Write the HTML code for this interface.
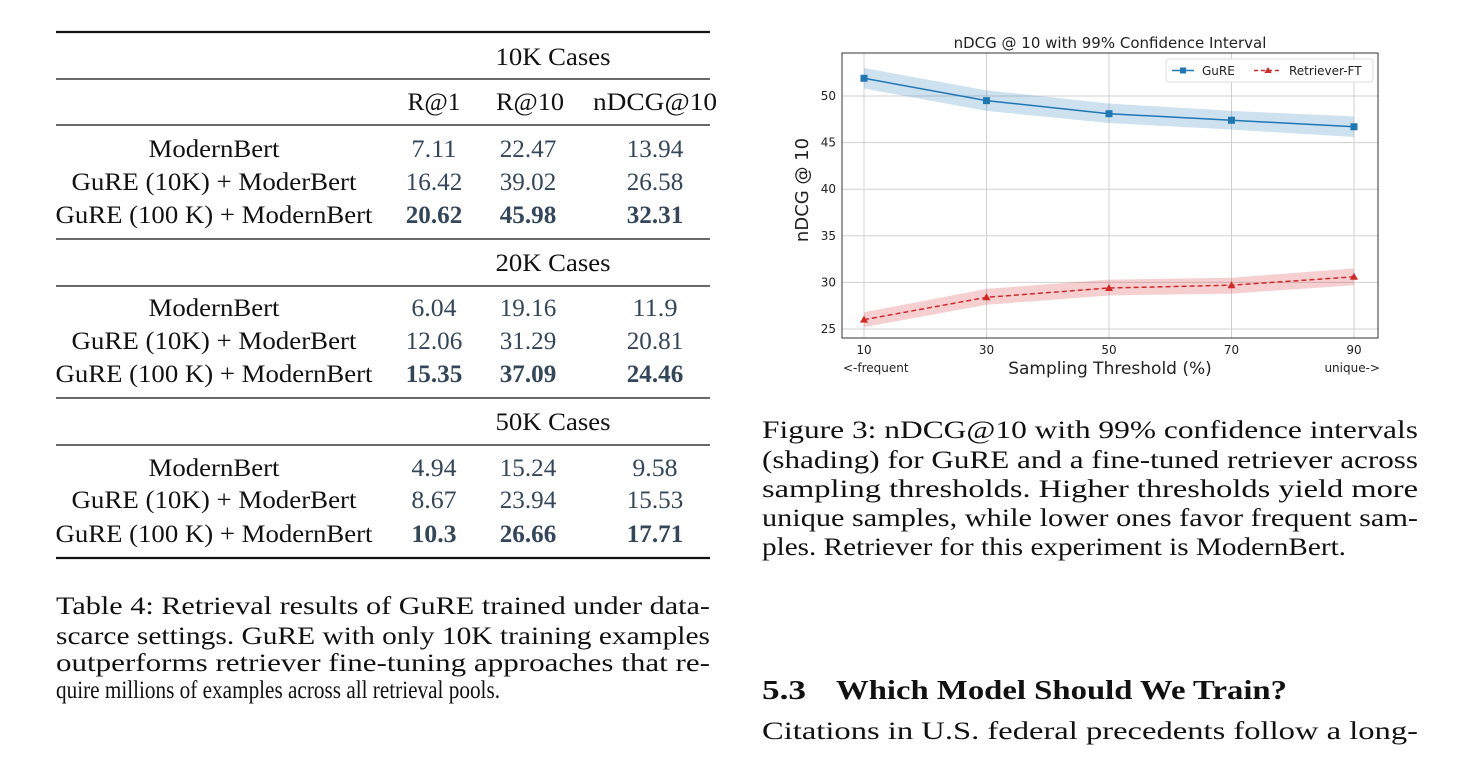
<!DOCTYPE html>
<html><head><meta charset="utf-8"><style>
html,body{margin:0;padding:0;background:#fff;}
svg{display:block;}
.s{font-family:"Liberation Serif",serif;fill:#111;}
.n{font-family:"Liberation Serif",serif;fill:#34465a;font-size:25px;}
.d{font-family:"DejaVu Sans","Liberation Sans",sans-serif;fill:#222;}
</style></head><body>
<svg id="page" width="1473" height="759" viewBox="0 0 1473 759">
<g id="table"></g>
<g class="s" font-size="25">
<text x="56" y="614" textLength="654" lengthAdjust="spacingAndGlyphs">Table 4: Retrieval results of GuRE trained under data-</text>
<text x="56" y="644" textLength="654" lengthAdjust="spacingAndGlyphs">scarce settings. GuRE with only 10K training examples</text>
<text x="56" y="671" textLength="654" lengthAdjust="spacingAndGlyphs">outperforms retriever fine-tuning approaches that re-</text>
<text x="56" y="698" textLength="444" lengthAdjust="spacingAndGlyphs">quire millions of examples across all retrieval pools.</text>
</g>
<g class="s" font-size="25">
<text x="762" y="438" textLength="656" lengthAdjust="spacingAndGlyphs">Figure 3: nDCG@10 with 99% confidence intervals</text>
<text x="762" y="468" textLength="656" lengthAdjust="spacingAndGlyphs">(shading) for GuRE and a fine-tuned retriever across</text>
<text x="762" y="497" textLength="656" lengthAdjust="spacingAndGlyphs">sampling thresholds.  Higher thresholds yield more</text>
<text x="762" y="526" textLength="656" lengthAdjust="spacingAndGlyphs">unique samples, while lower ones favor frequent sam-</text>
<text x="762" y="555" textLength="584" lengthAdjust="spacingAndGlyphs">ples. Retriever for this experiment is ModernBert.</text>
</g>
<g class="s" font-size="27" font-weight="bold">
<text x="762" y="699" textLength="44" lengthAdjust="spacingAndGlyphs">5.3</text>
<text x="836" y="699" textLength="451" lengthAdjust="spacingAndGlyphs">Which Model Should We Train?</text>
</g>
<text class="s" font-size="25" x="762" y="739" textLength="656" lengthAdjust="spacingAndGlyphs">Citations in U.S. federal precedents follow a long-</text>
<g id="chart"></g>
</svg>
<script>
const NS="http://www.w3.org/2000/svg";
function mk(p,tag,attrs,txt){const e=document.createElementNS(NS,tag);for(const k in attrs)e.setAttribute(k,attrs[k]);if(txt!==undefined)e.textContent=txt;p.appendChild(e);return e;}

// ---- table ----
const sections=["10K Cases","20K Cases","50K Cases"];
const rowLabels=["ModernBert","GuRE (10K) + ModerBert","GuRE (100 K) + ModernBert"];
const labelW=[131,285,317];
const r1=[["7.11","16.42","20.62"],["6.04","12.06","15.35"],["4.94","8.67","10.3"]];
const r10=[["22.47","39.02","45.98"],["19.16","31.29","37.09"],["15.24","23.94","26.66"]];
const nd=[["13.94","26.58","32.31"],["11.9","20.81","24.46"],["9.58","15.53","17.71"]];
const T=document.getElementById('table');
function hl(y,w){const l=mk(T,'line',{x1:56,x2:710,y1:y,y2:y,stroke:'#111','stroke-width':w});

}
hl(32,2.2);hl(79,1.3);hl(125,1.3);hl(239,1.3);hl(286,1.3);hl(398,1.3);hl(445,1.3);hl(558,2.2);
const hdr=[["R@1",434,53],["R@10",530,68],["nDCG@10",655,124]];
hdr.forEach(h=>{const t=mk(T,'text',{x:h[1],y:110,'text-anchor':'middle','class':'s','font-size':25,textLength:h[2],lengthAdjust:'spacingAndGlyphs'},h[0]);

});
const secY=[65,271,430];
const rowY=[[157,190,223],[316,349,382],[476,508,542]];
sections.forEach((s,i)=>{
 const t=mk(T,'text',{x:553,y:secY[i],'text-anchor':'middle','class':'s','font-size':25,textLength:115,lengthAdjust:'spacingAndGlyphs'},s);
 
 
 rowLabels.forEach((lab,j)=>{
  const y=rowY[i][j];
  const a=mk(T,'text',{x:214,y:y,'text-anchor':'middle','class':'s','font-size':25,textLength:labelW[j],lengthAdjust:'spacingAndGlyphs'},lab);
  
  
  const bold=j===2;
  [[r1,434],[r10,528],[nd,655]].forEach(c=>{
   const v=c[0][i][j];
   const n=mk(T,'text',{x:c[1],y:y,'text-anchor':'middle','class':'n','font-weight':bold?'bold':'normal',textLength:v.length*11.3,lengthAdjust:'spacingAndGlyphs'},v);
   
   
  });
 });
});

// ---- chart ----
const xCats=[10,30,50,70,90];
const gure=[51.9,49.5,48.1,47.4,46.7];
const gureLo=[50.8,48.4,47.1,46.4,45.6];
const gureHi=[53.0,50.6,49.2,48.4,47.8];
const ret=[26.0,28.4,29.4,29.7,30.6];
const retLo=[25.2,27.6,28.6,28.8,29.7];
const retHi=[26.8,29.3,30.3,30.5,31.5];
const yTicks=[25,30,35,40,45,50];
const C=document.getElementById('chart');
const L=842,R=1378,Tp=53,B=338;
const xs=v=>864+(v-10)*(1354-864)/80;
const ys=v=>96+(50-v)*(329-96)/25;
yTicks.forEach(t=>{const g=mk(C,'line',{x1:L,x2:R,y1:ys(t),y2:ys(t),stroke:'#d0d0d0','stroke-width':1});


const lb=mk(C,'text',{x:L-6,y:ys(t)+4,'text-anchor':'end','class':'d','font-size':12},String(t));

});
xCats.forEach(t=>{const g=mk(C,'line',{x1:xs(t),x2:xs(t),y1:Tp,y2:B,stroke:'#d0d0d0','stroke-width':1});


const lb=mk(C,'text',{x:xs(t),y:B+16,'text-anchor':'middle','class':'d','font-size':12},String(t));

});
function band(lo,hi,fill,name){let d='M'+xCats.map((x,i)=>xs(x)+','+ys(hi[i])).join('L');
for(let i=xCats.length-1;i>=0;i--)d+='L'+xs(xCats[i])+','+ys(lo[i]);d+='Z';
const p=mk(C,'path',{d:d,fill:fill,'fill-opacity':0.22});

}
band(gureLo,gureHi,'#1f77b4','gure-confidence-band');
band(retLo,retHi,'#d62728','retriever-confidence-band');
function line(vals,col,dash,name){const l=mk(C,'polyline',{points:xCats.map((x,i)=>xs(x)+','+ys(vals[i])).join(' '),fill:'none',stroke:col,'stroke-width':1.5,'stroke-dasharray':dash});

}
line(gure,'#1f77b4','none','gure-line');
line(ret,'#d62728','5,3','retriever-ft-line');
gure.forEach((v,i)=>{const m=mk(C,'rect',{x:xs(xCats[i])-3.5,y:ys(v)-3.5,width:7,height:7,fill:'#1f77b4'});

});
ret.forEach((v,i)=>{const x=xs(xCats[i]),y=ys(v);const m=mk(C,'polygon',{points:`${x},${y-4} ${x-4},${y+3} ${x+4},${y+3}`,fill:'#d62728'});

});
const fr=mk(C,'rect',{x:L,y:Tp,width:R-L,height:B-Tp,fill:'none',stroke:'#333','stroke-width':1});


const tt=mk(C,'text',{x:1110,y:48,'text-anchor':'middle','class':'d','font-size':15},'nDCG @ 10 with 99% Confidence Interval');


const xt=mk(C,'text',{x:1110,y:374,'text-anchor':'middle','class':'d','font-size':17},'Sampling Threshold (%)');


const f1=mk(C,'text',{x:843,y:372,'class':'d','font-size':12},'<-frequent');


const f2=mk(C,'text',{x:1380,y:372,'text-anchor':'end','class':'d','font-size':12},'unique->');


const yt=mk(C,'text',{x:0,y:0,'text-anchor':'middle','class':'d','font-size':18,transform:'translate(808,190) rotate(-90)'},'nDCG @ 10');


const lg=mk(C,'g',{});


mk(lg,'rect',{x:1166,y:59,width:207,height:23,fill:'#fff',stroke:'#ddd',rx:3});
mk(lg,'line',{x1:1172,x2:1194,y1:70.5,y2:70.5,stroke:'#1f77b4','stroke-width':1.5});
mk(lg,'rect',{x:1180,y:67.5,width:6,height:6,fill:'#1f77b4'});
const e1=mk(lg,'text',{x:1202,y:75,'class':'d','font-size':12},'GuRE');


mk(lg,'line',{x1:1254,x2:1282,y1:70.5,y2:70.5,stroke:'#d62728','stroke-width':1.5,'stroke-dasharray':'4,3'});
mk(lg,'polygon',{points:'1268,67 1264.5,73 1271.5,73',fill:'#d62728'});
const e2=mk(lg,'text',{x:1289,y:75,'class':'d','font-size':12},'Retriever-FT');


</script>
</body></html>
